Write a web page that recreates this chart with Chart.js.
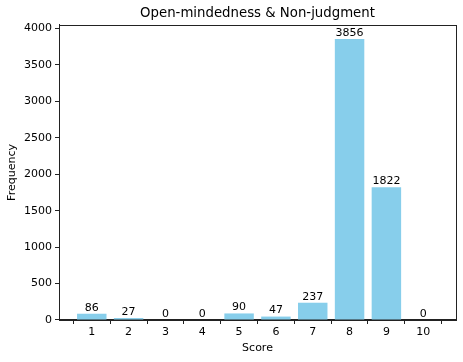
<!DOCTYPE html>
<html>
<head>
<meta charset="utf-8">
<script src="https://cdn.jsdelivr.net/npm/chart.js@4/dist/chart.umd.min.js"></script>
<style>
html,body{margin:0;padding:0;background:#fff;}
canvas{display:block;}
</style>
</head>
<body>
<canvas id="c" width="463" height="362"></canvas>
<script>
const scores = [1, 2, 3, 4, 5, 6, 7, 8, 9, 10];
const frequencies = [86, 27, 0, 0, 90, 47, 237, 3856, 1822, 0];
const yTicks = [0, 500, 1000, 1500, 2000, 2500, 3000, 3500, 4000];

const FONT = "'DejaVu Sans', sans-serif";
const AXIS_COLOR = '#222';

const framePlugin = {
  id: 'frame',
  afterDraw(chart) {
    const {ctx, chartArea: a} = chart;
    ctx.save();
    ctx.strokeStyle = AXIS_COLOR;
    ctx.lineWidth = 1;
    ctx.strokeRect(Math.round(a.left) + 0.5, Math.round(a.top) + 0.5, Math.round(a.right - a.left), Math.round(a.bottom - a.top));
    ctx.restore();
  }
};

const labelPlugin = {
  id: 'barLabels',
  afterDatasetsDraw(chart) {
    const {ctx} = chart;
    const meta = chart.getDatasetMeta(0);
    ctx.save();
    ctx.font = "11px " + FONT;
    ctx.fillStyle = '#000';
    ctx.textAlign = 'center';
    ctx.textBaseline = 'bottom';
    meta.data.forEach((bar, i) => {
      ctx.fillText(String(frequencies[i]), bar.x, bar.y - 0.5);
    });
    ctx.restore();
  }
};

new Chart(document.getElementById('c'), {
  type: 'bar',
  data: {
    datasets: [{
      data: scores.map((s, i) => ({x: s, y: frequencies[i]})),
      backgroundColor: '#87CEEB',
      borderWidth: 0,
      barPercentage: 0.8,
      categoryPercentage: 1.0
    }]
  },
  options: {
    responsive: false,
    animation: false,
    layout: {padding: {left: 0, right: 7, top: 0, bottom: 7}},
    plugins: {
      legend: {display: false},
      tooltip: {enabled: false},
      title: {
        display: true,
        fullSize: false,
        text: 'Open-mindedness & Non-judgment',
        color: '#000',
        font: {family: FONT, size: 13.3, weight: 'normal'},
        padding: {top: 6, bottom: 3}
      }
    },
    scales: {
      x: {
        type: 'linear',
        min: 0.11,
        max: 10.89,
        offset: false,
        afterBuildTicks(scale) { scale.ticks = scores.map(v => ({value: v})); },
        afterFit(scale) { scale.height = 35; },
        grid: {display: true, drawOnChartArea: false, drawTicks: true, tickLength: 4, color: AXIS_COLOR},
        border: {display: true, color: AXIS_COLOR},
        ticks: {color: '#000', font: {family: FONT, size: 11}, padding: 2, maxRotation: 0, autoSkip: false,
                callback: v => String(v)},
        title: {display: true, text: 'Score', color: '#000', font: {family: FONT, size: 11}, padding: {top: 1, bottom: 0}}
      },
      y: {
        type: 'linear',
        min: 0,
        max: 4048.8,
        afterBuildTicks(scale) { scale.ticks = yTicks.map(v => ({value: v})); },
        afterFit(scale) { scale.width = 59; },
        grid: {display: true, drawOnChartArea: false, drawTicks: true, tickLength: 4, color: AXIS_COLOR},
        border: {display: true, color: AXIS_COLOR},
        ticks: {color: '#000', font: {family: FONT, size: 11}, padding: 3, callback: v => String(v)},
        title: {display: true, text: 'Frequency', color: '#000', font: {family: FONT, size: 11}, padding: {top: 6, bottom: 2}}
      }
    }
  },
  plugins: [framePlugin, labelPlugin]
});
</script>
</body>
</html>
